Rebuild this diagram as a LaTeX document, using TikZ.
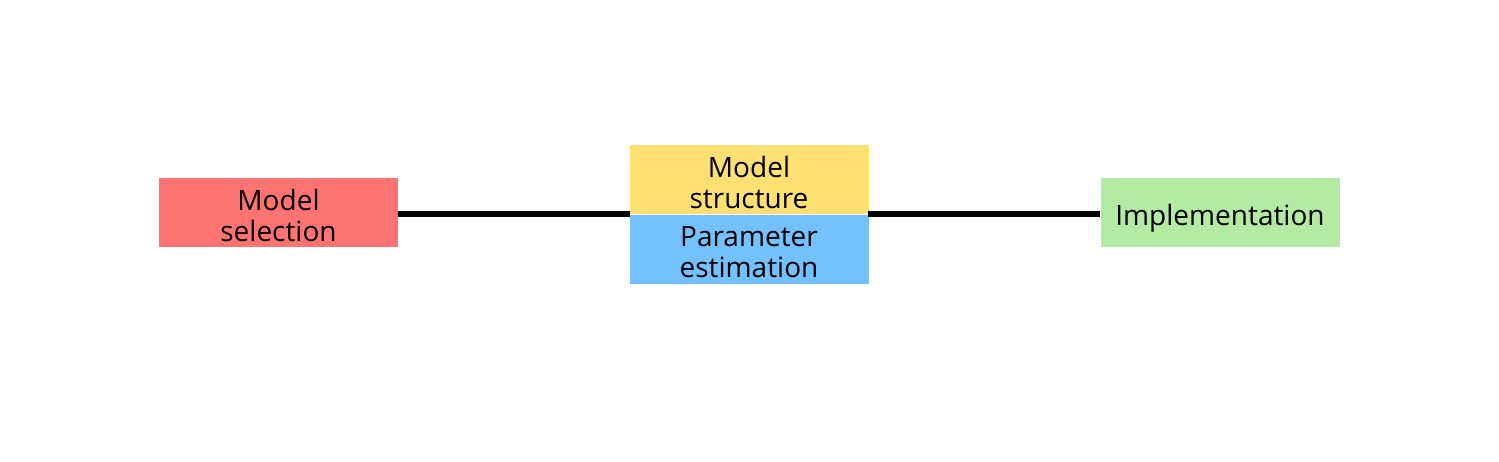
\documentclass[tikz,border=0pt]{standalone}
\usepackage{fontspec}
\setmainfont{Open Sans}
\definecolor{cred}{HTML}{FF7373}
\definecolor{cyellow}{HTML}{FFE173}
\definecolor{cblue}{HTML}{73C2FF}
\definecolor{cgreen}{HTML}{B3EBA5}
\newcommand{\boxtext}[1]{\raisebox{-7pt}[\height][\depth]{\begin{tabular}{@{}c@{}}#1\end{tabular}}}
\begin{document}
\begin{tikzpicture}[x=1pt,y=-1pt,
  box/.style={minimum width=239pt,minimum height=69pt,inner sep=0pt,align=center,
    font=\fontsize{28}{31}\selectfont, text=black},
  link/.style={line width=6pt,black}]
\useasboundingbox (0,0) rectangle (1499,461);
\node[box,fill=cred] (sel) at (278.5,212.5) {\boxtext{Model\\selection}};
\node[box,fill=cyellow] (str) at (749,179.5) {\boxtext{Model\\structure}};
\node[box,fill=cblue] (par) at (749,249) {\boxtext{Parameter\\estimation}};
\node[box,fill=cgreen] (imp) at (1220,212.5) {\boxtext{Implementation}};
\coordinate (ml) at (630,214);
\coordinate (mr) at (868,214);
\draw[link] (sel.east |- ml) -- (ml);
\draw[link] (mr) -- (imp.west |- mr);
\end{tikzpicture}
\end{document}
